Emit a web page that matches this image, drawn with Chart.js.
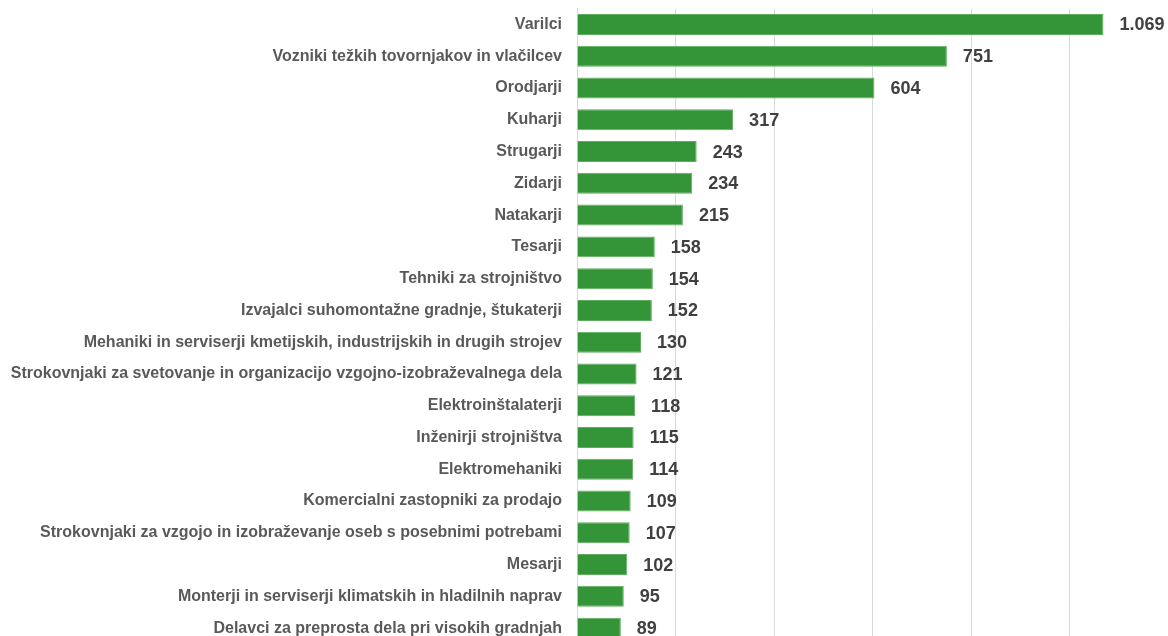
<!DOCTYPE html>
<html>
<head>
<meta charset="utf-8">
<script src="https://cdn.jsdelivr.net/npm/chart.js@4"></script>
<style>
  html, body { margin: 0; padding: 0; background: #fff; overflow: hidden; }
  #wrap { width: 1168px; height: 686px; margin-top: -16px; }
</style>
</head>
<body>
<div id="wrap"><canvas id="barChart"></canvas></div>
<script>
const categories = [
  "Varilci",
  "Vozniki težkih tovornjakov in vlačilcev",
  "Orodjarji",
  "Kuharji",
  "Strugarji",
  "Zidarji",
  "Natakarji",
  "Tesarji",
  "Tehniki za strojništvo",
  "Izvajalci suhomontažne gradnje, štukaterji",
  "Mehaniki in serviserji kmetijskih, industrijskih in drugih strojev",
  "Strokovnjaki za svetovanje in organizacijo vzgojno-izobraževalnega dela",
  "Elektroinštalaterji",
  "Inženirji strojništva",
  "Elektromehaniki",
  "Komercialni zastopniki za prodajo",
  "Strokovnjaki za vzgojo in izobraževanje oseb s posebnimi potrebami",
  "Mesarji",
  "Monterji in serviserji klimatskih in hladilnih naprav",
  "Delavci za preprosta dela pri visokih gradnjah"
];
const values = [1069, 751, 604, 317, 243, 234, 215, 158, 154, 152, 130, 121, 118, 115, 114, 109, 107, 102, 95, 89];
const axisMax = 1200;
const axisStep = 200;

function fmt(v) {
  return String(v).replace(/\B(?=(\d{3})+(?!\d))/g, ".");
}

// simple value labels to the right of each bar
const valueLabels = {
  id: "valueLabels",
  afterDatasetsDraw(chart) {
    const ctx = chart.ctx;
    const meta = chart.getDatasetMeta(0);
    ctx.save();
    ctx.font = "bold 18px 'Liberation Sans', Arial, sans-serif";
    ctx.fillStyle = "#404040";
    ctx.textAlign = "left";
    ctx.textBaseline = "middle";
    meta.data.forEach((bar, i) => {
      ctx.fillText(fmt(values[i]), bar.x + 16, bar.y + 1);
    });
    ctx.restore();
  }
};

new Chart(document.getElementById("barChart"), {
  type: "bar",
  data: {
    labels: categories,
    datasets: [{
      data: values,
      backgroundColor: "#339537",
      borderColor: "#5fae5f",
      borderWidth: 1,
      categoryPercentage: 1,
      barPercentage: 0.66
    }]
  },
  options: {
    indexAxis: "y",
    responsive: true,
    maintainAspectRatio: false,
    animation: false,
    layout: { padding: { top: 8, right: 0, left: 0, bottom: 26 } },
    plugins: {
      legend: { display: false },
      tooltip: { enabled: false }
    },
    scales: {
      x: {
        min: 0,
        max: axisMax,
        ticks: { display: false, stepSize: axisStep },
        grid: { color: "#d9d9d9", lineWidth: 1, drawTicks: false },
        border: { display: false }
      },
      y: {
        ticks: {
          color: "#595959",
          font: { family: "'Liberation Sans', Arial, sans-serif", size: 16, weight: "bold" },
          padding: 15,
          autoSkip: false
        },
        grid: { display: false, drawTicks: false },
        border: { color: "#d9d9d9" },
        afterFit(scale) { scale.width = 577; }
      }
    }
  },
  plugins: [valueLabels]
});
</script>
</body>
</html>
